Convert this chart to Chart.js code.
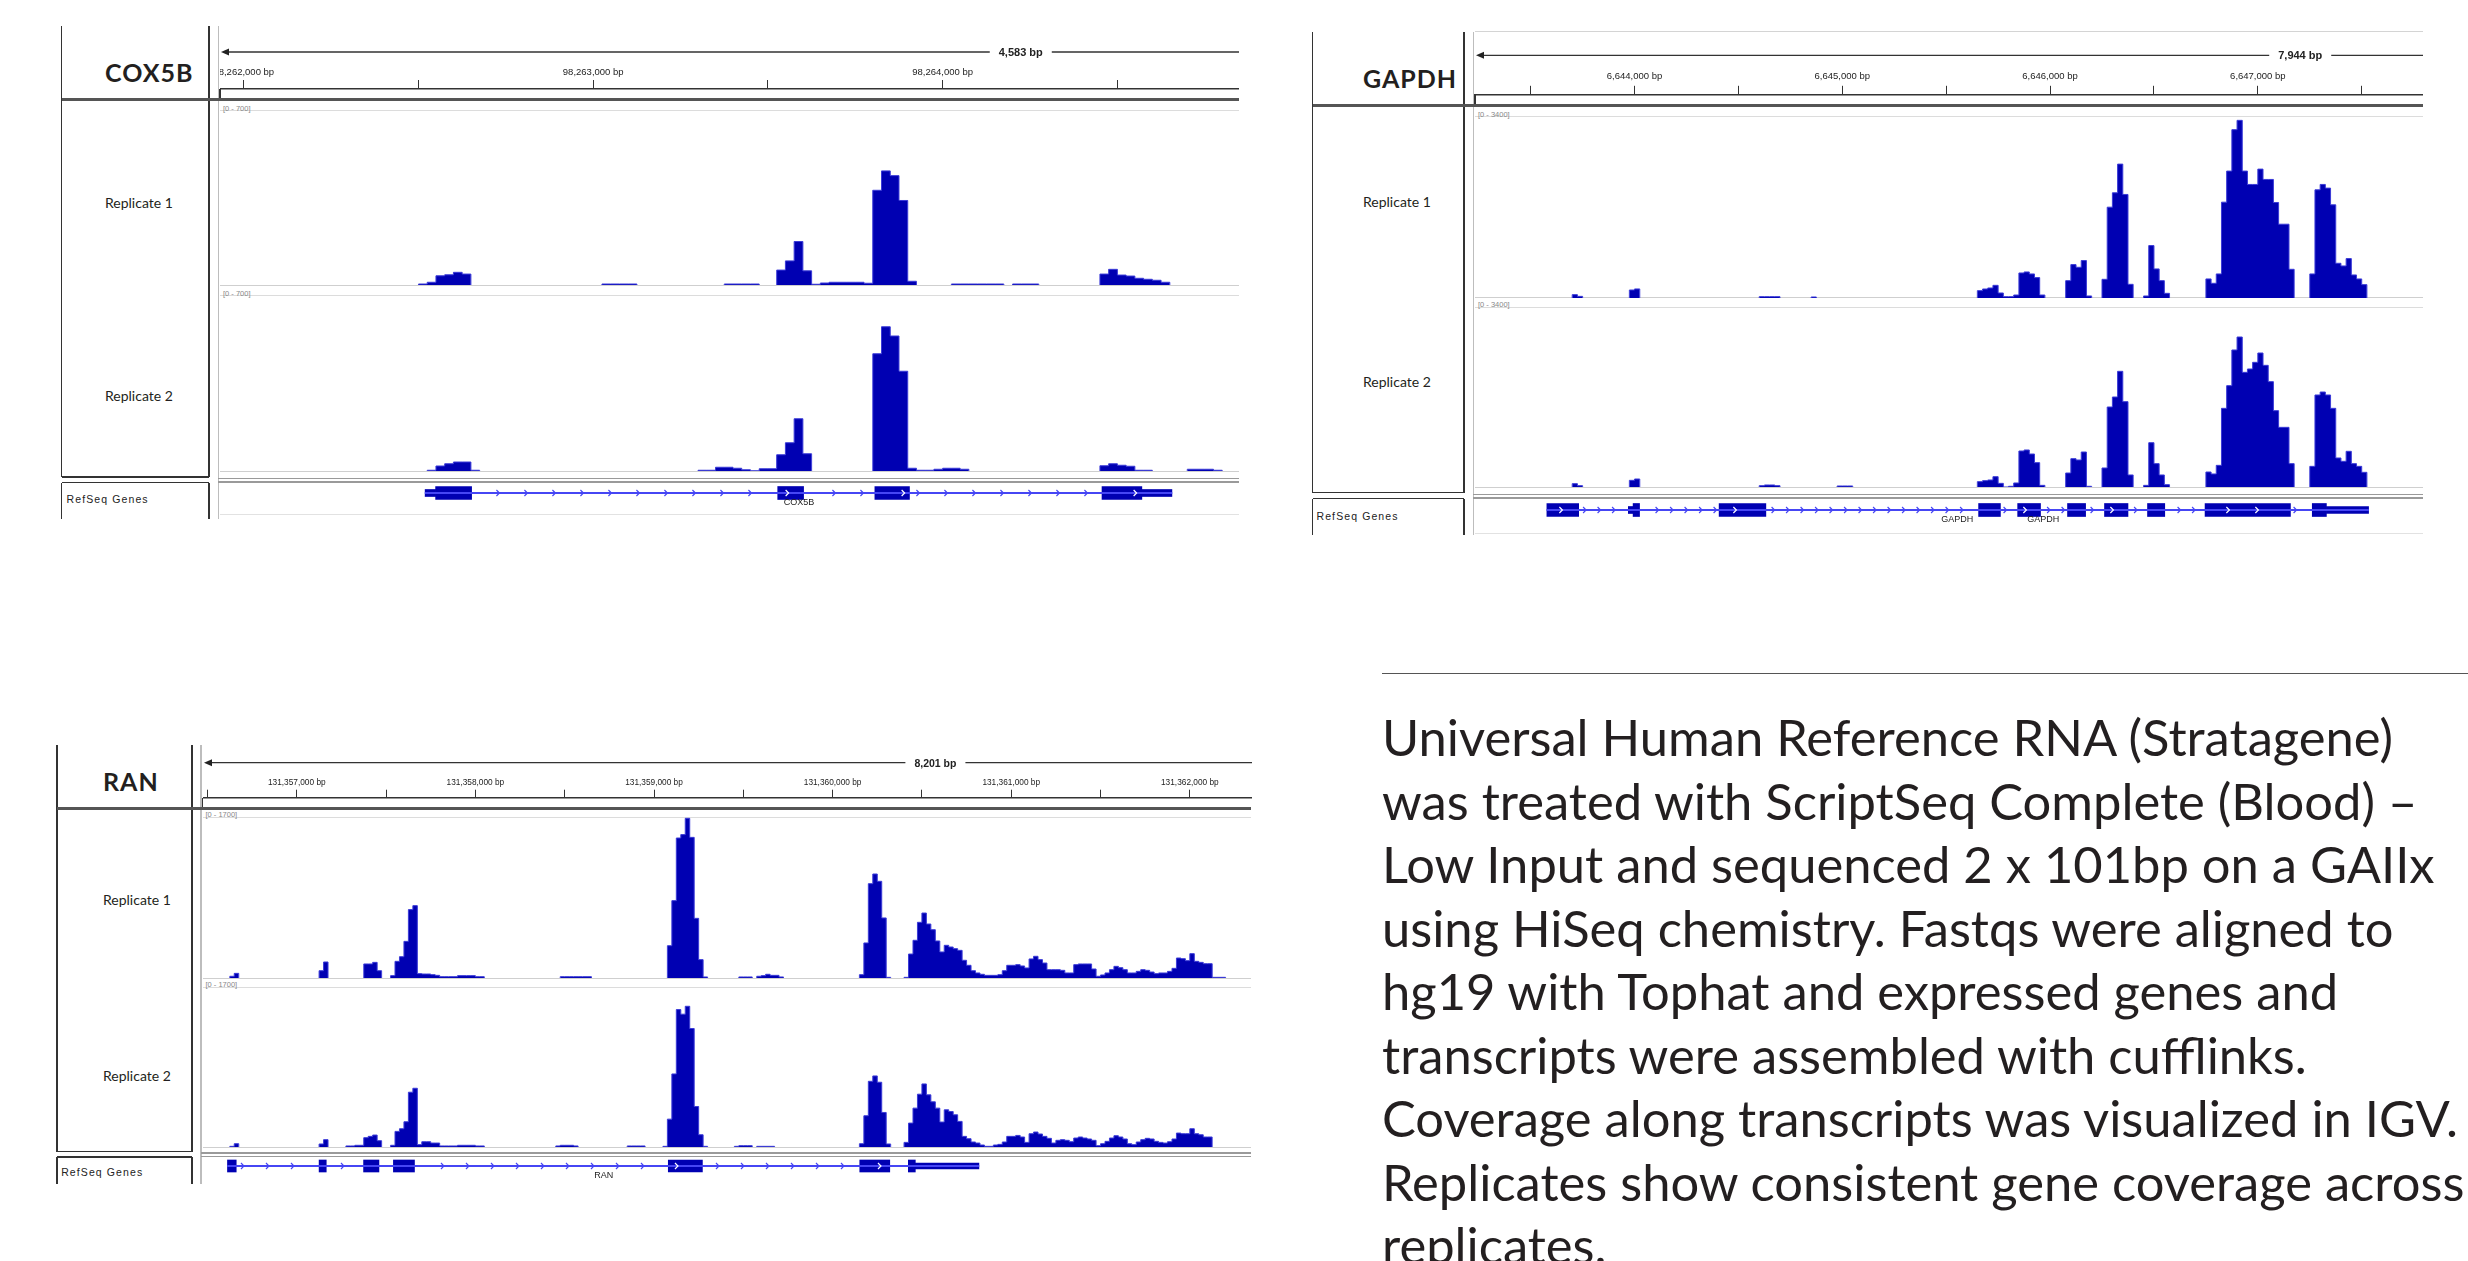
<!DOCTYPE html>
<html lang="en">
<head>
<meta charset="utf-8">
<title>ScriptSeq coverage - COX5B, GAPDH, RAN</title>
<script src="https://cdn.jsdelivr.net/npm/chart.js@4.4.1/dist/chart.umd.min.js"></script>
<style>
  html, body { margin: 0; padding: 0; background: #fff; }
  #page { position: relative; width: 2468px; height: 1261px; overflow: hidden; font-family: Lato, "Open Sans", sans-serif; color: #231f20; }
  #page canvas { position: absolute; }
</style>
</head>
<body>
<div id="page"></div>
<script>
// IGV coverage screenshots redrawn with Chart.js
// coverage runs: [start of first 25 bp bin, [depth of each bin ...]]

const BIN = 25;
const trackNames = ['Replicate 1', 'Replicate 2'];

// ---- COX5B ----
const cox5bView = [98261932, 98264848];
const cox5bWindow = 4583;
const cox5bMax = 700;
const cox5bTicks = [98262000, 98262500, 98263000, 98263500, 98264000, 98264500];
const cox5bRep1 = [
  [98262500, [4, 11, 37, 41, 51, 44]],
  [98263025, [4, 4, 4, 4]],
  [98263375, [4, 4, 4, 4]],
  [98263525, [60, 97, 175, 57, 3, 8, 11, 11, 11, 11, 7, 381, 459, 440, 340, 15]],
  [98264025, [4, 4, 4, 4, 4, 4]],
  [98264200, [4, 4, 4]],
  [98264450, [44, 63, 40, 36, 27, 23, 19, 11]]
];
const cox5bRep2 = [
  [98262525, [3, 20, 29, 36, 36, 3]],
  [98263300, [3, 3, 15, 15, 11, 5, 1, 9, 9, 65, 113, 209, 69]],
  [98263800, [469, 577, 540, 399, 11, 3, 3, 7, 11, 11, 7]],
  [98264450, [21, 29, 23, 19, 3, 3]],
  [98264700, [7, 7, 7, 3]]
];
const cox5bGene = [98262519, 98264656];
const cox5bExons = [[98262549, 98262652], [98263528, 98263602], [98263806, 98263905], [98264456, 98264570]];
const cox5bUtrs = [[98262519, 98262549], [98264570, 98264656]];
const cox5bLabels = [['COX5B', 98263589]];

// ---- GAPDH ----
const gapdhView = [6643232, 6647795];
const gapdhWindow = 7944;
const gapdhMax = 3400;
const gapdhTicks = [6643500, 6644000, 6644500, 6645000, 6645500, 6646000, 6646500, 6647000, 6647500];
const gapdhRep1 = [
  [6643700, [63, 31]],
  [6643975, [150, 170]],
  [6644600, [25, 25, 25, 25]],
  [6644850, [19]],
  [6645650, [138, 169, 188, 238, 94, 25, 25, 56, 470, 489, 452, 383, 56]],
  [6646075, [326, 627, 577, 703, 38]],
  [6646250, [351, 1706, 1976, 2515, 1945, 257]],
  [6646450, [38, 985, 546, 326, 88]],
  [6646750, [358, 276, 452, 1800, 2384, 3162, 3337, 2384, 2133, 2133, 2421, 2227, 2227, 1794, 1386, 1386, 539]],
  [6647250, [452, 2032, 2133, 2064, 1750, 652, 602, 740, 433, 358, 251]]
];
const gapdhRep2 = [
  [6643700, [63, 25]],
  [6643975, [126, 151]],
  [6644600, [25, 38, 38, 25]],
  [6644975, [19, 19, 19]],
  [6645650, [101, 120, 132, 195, 69, 0, 13, 76, 680, 699, 623, 460, 31]],
  [6646075, [264, 535, 510, 661, 13]],
  [6646250, [359, 1511, 1700, 2185, 1612, 227]],
  [6646450, [31, 837, 441, 227, 44]],
  [6646750, [283, 246, 409, 1486, 1914, 2588, 2833, 2166, 2229, 2355, 2531, 2298, 1990, 1442, 1127, 1127, 441]],
  [6647250, [390, 1738, 1794, 1738, 1486, 548, 485, 674, 441, 390, 277]]
];
const gapdhGene = [6643578, 6647533];
const gapdhExons = [[6643578, 6643731], [6643993, 6644024], [6644407, 6644632], [6645656, 6645761], [6645844, 6645954],
  [6646084, 6646171], [6646262, 6646375], [6646469, 6646552], [6646746, 6647157], [6647262, 6647330]];
const gapdhUtrs = [[6643970, 6643993], [6647330, 6647533]];
const gapdhLabels = [['GAPDH', 6645553], ['GAPDH', 6645967]];

// ---- RAN ----
const ranView = [131356475, 131362348];
const ranWindow = 8201;
const ranMax = 1700;
const ranTicks = [131356500, 131357000, 131357500, 131358000, 131358500, 131359000, 131359500,
  131360000, 131360500, 131361000, 131361500, 131362000];
const ranRep1 = [
  [131356625, [18, 49]],
  [131357125, [77, 169]],
  [131357375, [148, 148, 165, 77]],
  [131357525, [25, 176, 225, 387, 722, 764, 46, 42, 42, 35, 28, 14, 14, 14, 14, 25, 25, 25, 25, 14, 14]],
  [131358475, [14, 14, 14, 14, 14, 14, 14]],
  [131359075, [341, 817, 1478, 1514, 1686, 1485, 630, 194, 11]],
  [131359475, [11, 11, 11]],
  [131359575, [18, 25, 39, 28, 28, 11]],
  [131360150, [35, 370, 996, 1098, 1021, 634, 7]],
  [131360400, [7, 253, 398, 588, 686, 570, 510, 391, 275, 345, 327, 310, 292, 187, 134, 77, 53, 39, 28, 28,
    28, 35, 77, 134, 134, 141, 127, 106, 201, 229, 194, 158, 88, 88, 88, 81, 53, 53, 141, 148,
    148, 148, 95, 18, 32, 53, 88, 123, 109, 88, 53, 53, 70, 88, 81, 63, 46, 53, 53, 70,
    102, 211, 204, 183, 257, 176, 165, 151, 151, 7, 7, 7]]
];
const ranRep2 = [
  [131356625, [7, 35]],
  [131357125, [32, 78]],
  [131357275, [11, 11, 18, 18, 99, 113, 127, 67]],
  [131357525, [18, 166, 194, 268, 582, 624, 25, 56, 56, 42, 42, 11, 11, 11, 11, 18, 18, 18, 18, 11, 11]],
  [131358450, [11, 18, 18, 18, 11]],
  [131358850, [11, 11, 11, 11]],
  [131359050, [7, 296, 776, 1460, 1411, 1495, 1259, 430, 130, 7]],
  [131359450, [7, 14, 14, 14]],
  [131359575, [7, 7, 7, 7]],
  [131360150, [35, 332, 698, 755, 688, 367, 32]],
  [131360400, [49, 254, 413, 561, 670, 554, 480, 413, 265, 395, 377, 342, 272, 113, 88, 53, 42, 21, 7, 7,
    21, 28, 53, 113, 113, 123, 106, 49, 141, 159, 138, 113, 92, 42, 71, 78, 71, 56, 95, 106,
    95, 85, 71, 14, 35, 60, 95, 120, 106, 85, 35, 25, 53, 78, 92, 85, 60, 49, 42, 56,
    85, 148, 141, 141, 194, 141, 130, 106, 106]]
];
const ranGene = [131356612, 131360819];
const ranExons = [[131356612, 131356661], [131357125, 131357165], [131357374, 131357460], [131357541, 131357659],
  [131359080, 131359271], [131360152, 131360320], [131360424, 131360463]];
const ranUtrs = [[131360463, 131360819]];
const ranLabels = [['RAN', 131358718]];

// ---- text ----
const blurbLines = [
  'Universal Human Reference RNA (Stratagene)',
  'was treated with ScriptSeq Complete (Blood) \u2013',
  'Low Input and sequenced 2 x 101bp on a GAIIx',
  'using HiSeq chemistry. Fastqs were aligned to',
  'hg19 with Tophat and expressed genes and',
  'transcripts were assembled with cufflinks.',
  'Coverage along transcripts was visualized in IGV.',
  'Replicates show consistent gene coverage across',
  'replicates.'
];

const BLUE = '#0000b2';
const EDGE = '#3b3bd8';
const INTRON = '#4646f4';
const DARK = '#333';

Chart.defaults.font.family = '"Liberation Sans", Arial, sans-serif';

// page layout of the three IGV panels (pixels)
const panels = [
  {
    name: 'COX5B', view: cox5bView, window: cox5bWindow, max: cox5bMax, ticks: cox5bTicks,
    reps: [cox5bRep1, cox5bRep2], gene: cox5bGene, exons: cox5bExons, utrs: cox5bUtrs, labels: cox5bLabels,
    colLeft: 61.6, colRight: 208.8, dataLeft: 220, dataRight: 1239,
    top: 26, arrowY: 52, axisY: 89, headerY: 99.5, topLine: false,
    tracks: [[110.7, 285], [295.7, 471]], boxBottom: 477, doubleLines: [478.5, 482],
    geneTop: 482.5, geneY: 493, bottom: 519, bottomLine: 514,
    labelX: 105, titleY: 72, repY: [203, 396], refseqX: 66.6, refseqY: 499.3,
    tickFont: 9.5, tickLen: 9, tickPad: 2, totalFont: 11, chevronGap: 28, exonH: 13, utrH: 7
  },
  {
    name: 'GAPDH', view: gapdhView, window: gapdhWindow, max: gapdhMax, ticks: gapdhTicks,
    reps: [gapdhRep1, gapdhRep2], gene: gapdhGene, exons: gapdhExons, utrs: gapdhUtrs, labels: gapdhLabels,
    colLeft: 1312.6, colRight: 1463.8, dataLeft: 1475, dataRight: 2422.6,
    top: 31.7, arrowY: 55, axisY: 94, headerY: 105, topLine: true,
    tracks: [[116.7, 297.3], [307.3, 487.3]], boxBottom: 492.7, doubleLines: [494.5, 498],
    geneTop: 498.5, geneY: 510, bottom: 535, bottomLine: 533,
    labelX: 1363, titleY: 78.3, repY: [201.7, 382.3], refseqX: 1316.5, refseqY: 516,
    tickFont: 9.5, tickLen: 8.5, tickPad: 3.5, totalFont: 11, chevronGap: 14.5, exonH: 13, utrH: 7
  },
  {
    name: 'RAN', view: ranView, window: ranWindow, max: ranMax, ticks: ranTicks,
    reps: [ranRep1, ranRep2], gene: ranGene, exons: ranExons, utrs: ranUtrs, labels: ranLabels,
    colLeft: 57, colRight: 192.2, dataLeft: 202.5, dataRight: 1251,
    top: 745, arrowY: 762.7, axisY: 797.7, headerY: 808, topLine: false,
    tracks: [[817.3, 978.3], [987, 1147.3]], boxBottom: 1151.7, doubleLines: [1153, 1156.5],
    geneTop: 1157, geneY: 1166, bottom: 1184, bottomLine: 0,
    labelX: 103, titleY: 781, repY: [900, 1075.7], refseqX: 61.2, refseqY: 1172.3,
    tickFont: 8.3, tickLen: 8, tickPad: 2.5, totalFont: 10.5, chevronGap: 25, exonH: 12, utrH: 6
  }
];

const page = document.getElementById('page');

function box(x, y, w, h, css) {
  const d = document.createElement('div');
  d.style.cssText = `position:absolute;left:${x}px;top:${y}px;width:${w}px;height:${h}px;` + (css || '');
  page.appendChild(d);
  return d;
}
function hline(x1, x2, y, w, c) { return box(x1, y - w / 2, x2 - x1, w, `background:${c}`); }
function vline(x, y1, y2, w, c) { return box(x - w / 2, y1, w, y2 - y1, `background:${c}`); }
function text(str, x, y, css) {
  const d = document.createElement('div');
  d.textContent = str;
  d.style.cssText = `position:absolute;left:${x}px;top:${y}px;transform:translateY(-50%);white-space:nowrap;line-height:1.2;` + css;
  page.appendChild(d);
  return d;
}
function canvasAt(x, y, w, h) {
  const c = document.createElement('canvas');
  c.width = Math.round(w);
  c.height = Math.round(h);
  c.style.left = x + 'px';
  c.style.top = y + 'px';
  c.style.width = Math.round(w) + 'px';
  c.style.height = Math.round(h) + 'px';
  page.appendChild(c);
  return c;
}

function runsToPoints(runs) {
  const pts = [];
  runs.forEach(([start, depth]) => {
    const end = start + depth.length * BIN;
    pts.push({ x: start, y: 0 });
    depth.forEach((d, i) => pts.push({ x: start + i * BIN, y: d }));
    pts.push({ x: end, y: 0 });
    pts.push({ x: end, y: null });
  });
  return pts;
}

function chartOptions(scales, extra) {
  return Object.assign({
    responsive: false,
    animation: false,
    devicePixelRatio: 1,
    events: [],
    layout: { padding: 0 },
    plugins: { legend: { display: false }, tooltip: { enabled: false } },
    scales
  }, extra || {});
}

const fmt = v => v.toLocaleString('en-US');

function rulerChart(p) {
  const axisH = p.axisY - p.top;
  const c = canvasAt(p.dataLeft, p.top, p.dataRight - p.dataLeft, axisH + 3);
  new Chart(c, {
    type: 'line',
    data: { datasets: [] },
    options: chartOptions({
      x: {
        type: 'linear', position: 'top', min: p.view[0], max: p.view[1],
        afterBuildTicks: s => { s.ticks = p.ticks.map(v => ({ value: v })); },
        afterFit: s => { s.paddingLeft = 0; s.paddingRight = 0; s.height = axisH; },
        ticks: {
          autoSkip: false, maxRotation: 0, minRotation: 0, padding: p.tickPad,
          color: '#222', font: { size: p.tickFont },
          callback: v => (v % 1000 === 0 ? fmt(v) + ' bp' : '')
        },
        grid: { display: true, drawOnChartArea: false, drawTicks: true, tickLength: p.tickLen, color: DARK, lineWidth: 1 },
        border: { display: true, color: DARK, width: 1.5 }
      },
      y: { display: false }
    }),
    plugins: [{
      id: 'windowArrow',
      afterDraw(chart) {
        const ctx = chart.ctx, xs = chart.scales.x;
        const y = p.arrowY - p.top;
        const cx = xs.getPixelForValue(p.view[0] + p.window / 2);
        const label = fmt(p.window) + ' bp';
        ctx.save();
        ctx.font = `bold ${p.totalFont}px "Liberation Sans"`;
        const half = ctx.measureText(label).width / 2 + 9;
        ctx.strokeStyle = DARK;
        ctx.lineWidth = 1.3;
        ctx.beginPath();
        ctx.moveTo(xs.left + 6, y); ctx.lineTo(cx - half, y);
        ctx.moveTo(cx + half, y); ctx.lineTo(xs.right, y);
        ctx.stroke();
        ctx.fillStyle = '#222';
        ctx.beginPath();
        ctx.moveTo(xs.left + 1, y); ctx.lineTo(xs.left + 9, y - 3.5); ctx.lineTo(xs.left + 9, y + 3.5);
        ctx.closePath();
        ctx.fill();
        ctx.textAlign = 'center';
        ctx.textBaseline = 'middle';
        ctx.fillText(label, cx, y + 1);
        ctx.restore();
      }
    }]
  });
}

function coverageChart(p, runs, top, base) {
  const c = canvasAt(p.dataLeft, top, p.dataRight - p.dataLeft, base - top);
  new Chart(c, {
    type: 'line',
    data: {
      datasets: [{
        data: runsToPoints(runs), stepped: 'before', fill: 'origin',
        backgroundColor: BLUE, borderColor: EDGE, borderWidth: 1,
        pointRadius: 0, spanGaps: false, tension: 0
      }]
    },
    options: chartOptions({
      x: { type: 'linear', display: false, min: p.view[0], max: p.view[1] },
      y: { display: false, min: 0, max: p.max }
    })
  });
}

function chevron(ctx, x, cy, color) {
  ctx.strokeStyle = color;
  ctx.beginPath();
  ctx.moveTo(x - 1.5, cy - 3); ctx.lineTo(x + 1.5, cy); ctx.lineTo(x - 1.5, cy + 3);
  ctx.stroke();
}

function geneChart(p) {
  const h = 34;
  const c = canvasAt(p.dataLeft, p.geneY - h / 2, p.dataRight - p.dataLeft, h);
  const feat = list => list.map(r => ({ y: 'gene', x: r }));
  new Chart(c, {
    type: 'bar',
    data: {
      labels: ['gene'],
      datasets: [
        { data: feat([p.gene]), barThickness: 1.2, backgroundColor: INTRON, grouped: false },
        { data: feat(p.utrs), barThickness: p.utrH, backgroundColor: BLUE, grouped: false },
        { data: feat(p.exons), barThickness: p.exonH, backgroundColor: BLUE, grouped: false }
      ]
    },
    options: chartOptions({
      x: { type: 'linear', display: false, min: p.view[0], max: p.view[1] },
      y: { display: false }
    }, { indexAxis: 'y' }),
    plugins: [{
      id: 'geneDecor',
      afterDatasetsDraw(chart) {
        const ctx = chart.ctx, xs = chart.scales.x;
        const cy = (chart.chartArea.top + chart.chartArea.bottom) / 2;
        const px = r => [xs.getPixelForValue(r[0]), xs.getPixelForValue(r[1])];
        const thick = p.exons.map(px), all = thick.concat(p.utrs.map(px));
        const [g0, g1] = px(p.gene);
        ctx.save();
        ctx.lineWidth = 1.2;
        // strand chevrons along the introns
        for (let x = g0 + p.chevronGap * 0.6; x < g1 - 4; x += p.chevronGap) {
          if (all.some(r => x > r[0] - 4 && x < r[1] + 4)) continue;
          chevron(ctx, x, cy, INTRON);
        }
        // white chevrons inside the wider exons
        for (let x = g0 + 14; x < g1; x += 29) {
          if (thick.some(r => x > r[0] + 5 && x < r[1] - 5)) chevron(ctx, x, cy, '#ffffff');
        }
        ctx.fillStyle = '#222';
        ctx.font = '9px "Liberation Sans"';
        ctx.textAlign = 'center';
        ctx.textBaseline = 'middle';
        p.labels.forEach(([name, pos]) => ctx.fillText(name, xs.getPixelForValue(pos), cy + 10));
        ctx.restore();
      }
    }]
  });
}

function buildPanel(p) {
  // label column boxes
  vline(p.colLeft, p.top, p.boxBottom, 1.5, DARK);
  vline(p.colRight, p.top, p.boxBottom, 1.5, DARK);
  hline(p.colLeft, p.colRight, p.boxBottom, 1.5, DARK);
  vline(p.colLeft, p.geneTop, p.bottom, 1.5, DARK);
  vline(p.colRight, p.geneTop, p.bottom, 1.5, DARK);
  hline(p.colLeft, p.colRight, p.geneTop, 1.5, DARK);
  // data column frame
  vline(p.dataLeft - 1.5, p.top, p.bottom, 1.5, '#bdbdbd');
  if (p.topLine) hline(p.dataLeft, p.dataRight, p.top, 1, '#d4d4d4');
  vline(p.dataLeft, p.axisY, p.headerY, 1.2, DARK);
  hline(p.colLeft, p.dataRight, p.headerY, 3, '#555');
  p.doubleLines.forEach(y => hline(p.dataLeft - 2, p.dataRight, y, 1.5, '#9a9a9a'));
  if (p.bottomLine) hline(p.dataLeft, p.dataRight, p.bottomLine, 1, '#e2e2e2');
  p.tracks.forEach(([t, b]) => {
    hline(p.dataLeft, p.dataRight, t, 1, '#dcdcdc');
    hline(p.dataLeft, p.dataRight, b, 1, '#cfcfcf');
    text(`[0 - ${p.max}]`, p.dataLeft + 3, t - 3, 'font-size:7.5px;font-family:"Liberation Sans";color:#888');
  });
  // labels
  text(p.name, p.labelX, p.titleY, 'font-size:25px;font-weight:700;letter-spacing:1px;font-family:Lato;color:#231f20');
  trackNames.forEach((n, i) => text(n, p.labelX, p.repY[i], 'font-size:14px;font-family:Lato;color:#231f20'));
  text('RefSeq Genes', p.refseqX, p.refseqY, 'font-size:10.5px;font-family:"Liberation Sans";color:#222;letter-spacing:1.1px');
  // charts
  rulerChart(p);
  p.reps.forEach((runs, i) => coverageChart(p, runs, p.tracks[i][0], p.tracks[i][1]));
  geneChart(p);
}

panels.forEach(buildPanel);

// description text, sized so the widest line spans the same width as in the figure
const blurbLeft = 1382, blurbFirst = 737, blurbStep = 63.5, blurbWidth = 1083;
const mctx = document.createElement('canvas').getContext('2d');
mctx.font = '100px Lato';
const blurbSize = 100 * blurbWidth / mctx.measureText(blurbLines[7]).width;
hline(1382, 2468, 673.7, 1.5, '#555');
blurbLines.forEach((line, i) => {
  text(line, blurbLeft, blurbFirst + i * blurbStep, `font-size:${blurbSize.toFixed(1)}px;font-family:Lato;color:#231f20`);
});
</script>
</body>
</html>
